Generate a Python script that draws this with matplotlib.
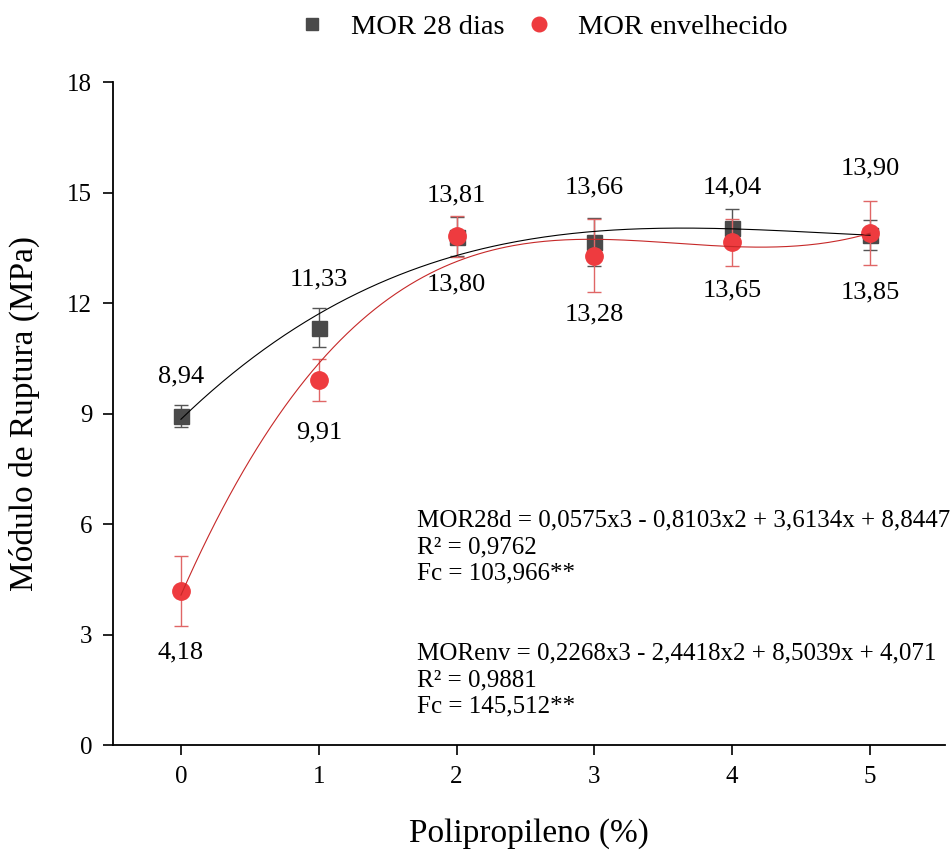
import numpy as np
import matplotlib.pyplot as plt
from matplotlib.lines import Line2D

plt.rcParams['font.family'] = ['Liberation Serif', 'DejaVu Serif']

# Teor de polipropileno (%) e MOR médio (MPa) com desvio
pp = [0, 1, 2, 3, 4, 5]
mor_28d = [8.94, 11.33, 13.80, 13.66, 14.04, 13.85]
mor_28d_sd = [0.30, 0.53, 0.53, 0.66, 0.51, 0.40]
mor_env = [4.18, 9.91, 13.81, 13.28, 13.65, 13.90]
mor_env_sd = [0.95, 0.57, 0.55, 0.99, 0.64, 0.88]

# coeficientes das regressões cúbicas (x3, x2, x, const)
coef_28d = [0.0575, -0.8103, 3.6134, 8.8447]
coef_env = [0.2268, -2.4418, 8.5039, 4.071]

eq_28d = "MOR28d = 0,0575x3 - 0,8103x2 + 3,6134x + 8,8447\nR² = 0,9762\nFc = 103,966**"
eq_env = "MORenv = 0,2268x3 - 2,4418x2 + 8,5039x + 4,071\nR² = 0,9881\nFc = 145,512**"

# deslocamento vertical dos rótulos (px)
dy_28d = [39, 48, -48, 54, 40, -58]
dy_env = [-61, -52, 41, -59, -48, 65]

fig = plt.figure(figsize=(9.52, 8.5), dpi=100)
ax = fig.add_axes([0.1187, 0.1235, 0.874, 0.78])

cor_28d = '#4a4a4a'
cor_env = '#ee3b3f'

ax.errorbar(pp, mor_28d, yerr=mor_28d_sd, fmt='s', color=cor_28d, ms=10.8,
            ecolor='#555555', elinewidth=1, capsize=5, capthick=1, zorder=3)
ax.errorbar(pp, mor_env, yerr=mor_env_sd, fmt='o', color=cor_env, ms=12.5,
            ecolor='#e06666', elinewidth=1, capsize=5, capthick=1, zorder=4)

xs = np.linspace(0, 5, 200)
ax.plot(xs, np.polyval(coef_28d, xs), color='black', lw=0.8, zorder=5)
ax.plot(xs, np.polyval(coef_env, xs), color='#c62828', lw=0.8, zorder=5)

for xi, yi, d in zip(pp, mor_28d, dy_28d):
    ax.annotate(f"{yi:.2f}".replace('.', ','), (xi, yi), xytext=(0, d),
                textcoords='offset pixels', ha='center', va='center', fontsize=19)
for xi, yi, d in zip(pp, mor_env, dy_env):
    ax.annotate(f"{yi:.2f}".replace('.', ','), (xi, yi), xytext=(0, d),
                textcoords='offset pixels', ha='center', va='center', fontsize=19)

ax.text(0.365, 0.2986, eq_28d, transform=ax.transAxes, fontsize=18,
        va='center', ha='left', linespacing=1.26)
ax.text(0.365, 0.098, eq_env, transform=ax.transAxes, fontsize=18,
        va='center', ha='left', linespacing=1.26)

ax.set_xlim(-0.493, 5.544)
ax.set_ylim(0, 18)
ax.set_xticks(pp)
ax.set_yticks([0, 3, 6, 9, 12, 15, 18])
ax.spines['top'].set_visible(False)
ax.spines['right'].set_visible(False)
for s in ['left', 'bottom']:
    ax.spines[s].set_linewidth(1.3)
ax.tick_params(axis='both', direction='out', length=7, width=1.2,
               labelsize=18, pad=8)

ax.set_xlabel('Polipropileno (%)', fontsize=24)
ax.set_ylabel('Módulo de Ruptura (MPa)', fontsize=24)
ax.xaxis.label.set_va('center')
ax.yaxis.label.set_va('center')
ax.xaxis.set_label_coords(0.5, -0.133)
ax.yaxis.set_label_coords(-0.106, 0.5)

# legenda só com os marcadores
handles = [
    Line2D([], [], ls='none', marker='s', color=cor_28d, ms=9.3),
    Line2D([], [], ls='none', marker='o', color=cor_env, ms=10.5),
]
fig.legend(handles, ['MOR 28 dias', 'MOR envelhecido'], loc='center',
           bbox_to_anchor=(0.570, 0.968), ncol=2, frameon=False,
           fontsize=20.5, handlelength=1, handletextpad=0.88, columnspacing=0.7)

fig.savefig('out.png', dpi=100)
